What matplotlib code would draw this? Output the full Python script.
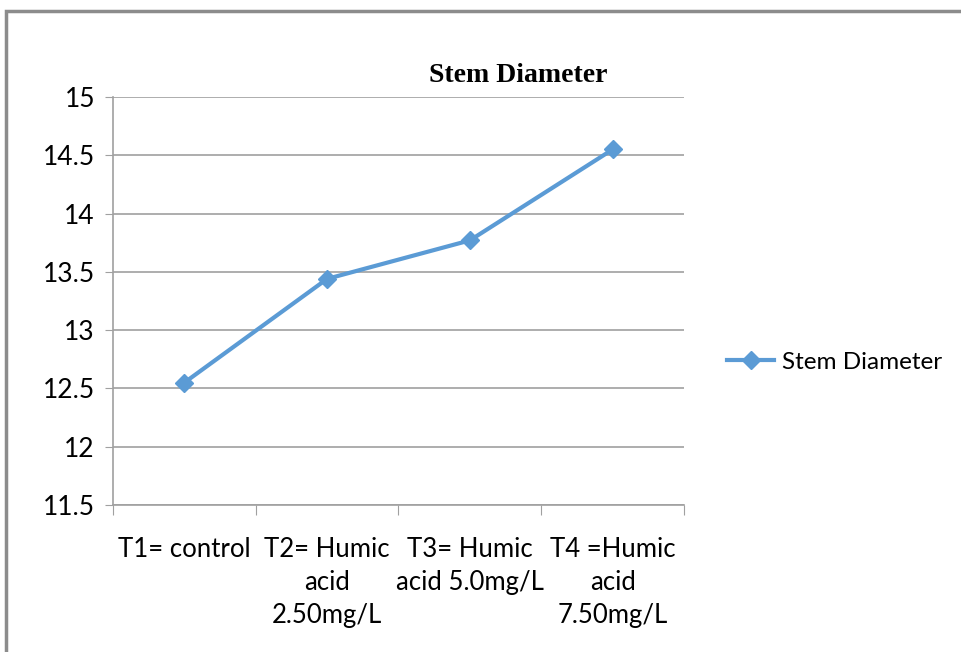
import matplotlib

matplotlib.use("Agg")
import matplotlib.pyplot as plt
from matplotlib.patches import Rectangle

categories = ["T1= control", "T2= Humic\nacid\n2.50mg/L", "T3= Humic\nacid 5.0mg/L", "T4 =Humic\nacid\n7.50mg/L"]
stem_diameter = [12.55, 13.44, 13.77, 14.55]
y_ticks = [11.5, 12, 12.5, 13, 13.5, 14, 14.5, 15]

LINE_COLOR = "#5B9BD5"
GRID_COLOR = "#A0A0A0"

W, H = 961, 652
fig = plt.figure(figsize=(W / 100, H / 100), dpi=100)
ax = fig.add_axes([113 / W, 1 - 505 / H, (684 - 113) / W, (505 - 97) / H])

x = list(range(len(categories)))
ax.plot(x, stem_diameter, color=LINE_COLOR, lw=3, marker="D", ms=9,
        label="Stem Diameter", zorder=3)

ax.set_xlim(-0.5, len(categories) - 0.5)
ax.set_ylim(11.5, 15)
ax.set_yticks(y_ticks)
ax.set_yticklabels([f"{v:g}" for v in y_ticks])
ax.yaxis.grid(True, color=GRID_COLOR, lw=1.2)
ax.set_axisbelow(True)

# category labels between tick marks, Excel style
ax.set_xticks([i - 0.5 for i in range(len(categories) + 1)])
ax.set_xticklabels([])
ax.set_xticks(x, minor=True)
ax.set_xticklabels(categories, minor=True, fontsize=18.5, family="Lato",
                   linespacing=1.4, va="top")
ax.tick_params(axis="x", which="minor", length=0, pad=23)
ax.tick_params(axis="x", which="major", length=7, direction="out", color=GRID_COLOR)
ax.tick_params(axis="y", length=6, color=GRID_COLOR, labelsize=19, pad=7)
for lab in ax.get_yticklabels():
    lab.set_family("Lato")

for s in ["top", "right"]:
    ax.spines[s].set_visible(False)
ax.spines["left"].set_color(GRID_COLOR)
ax.spines["bottom"].set_color(GRID_COLOR)
ax.spines["left"].set_linewidth(1.2)
ax.spines["bottom"].set_linewidth(1.2)

fig.text(518 / W, 1 - 75 / H, "Stem Diameter", ha="center", va="center",
         fontsize=20, fontweight="bold", family="Liberation Serif")

leg = fig.legend(loc="center left", bbox_to_anchor=(705 / W, 1 - 362 / H),
                 frameon=False, prop={"family": "Lato", "size": 17.5},
                 handlelength=1.95, handletextpad=0.3)

# outer chart frame, cut off at right and bottom like the source
fig.patches.append(Rectangle((6 / W, -0.1), 1.2, 1.1 - 11 / H, transform=fig.transFigure,
                             fill=False, edgecolor="#8C8C8C", lw=2.5))

fig.savefig("out.png", dpi=100)
